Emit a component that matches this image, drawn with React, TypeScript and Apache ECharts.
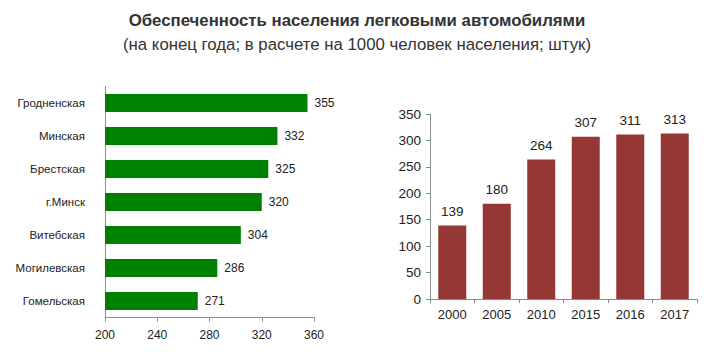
import React, { useEffect, useRef } from "react";
import * as echarts from "echarts";

const regions = ["Гродненская", "Минская", "Брестская", "г.Минск", "Витебская", "Могилевская", "Гомельская"];
const regionValues = [355, 332, 325, 320, 304, 286, 271];
const years = ["2000", "2005", "2010", "2015", "2016", "2017"];
const yearValues = [139, 180, 264, 307, 311, 313];
const titleText = "Обеспеченность населения легковыми автомобилями";
const subtitleText = "(на конец года; в расчете на 1000 человек населения; штук)";

export default function App() {
  const ref = useRef<HTMLDivElement>(null);
  useEffect(() => {
    const chart = echarts.init(ref.current!, undefined, { renderer: "svg" });
    const font = "Liberation Sans, Arial, sans-serif";
    const axisColor = "#8c8c8c";
    chart.setOption({
      animation: false,
      textStyle: { fontFamily: font },
      title: [
        {
          text: titleText,
          left: "center",
          top: 6.5,
          textStyle: { fontSize: 16.8, fontWeight: "bold", color: "#333", fontFamily: font },
        },
        {
          text: subtitleText,
          left: "center",
          top: 31,
          textStyle: { fontSize: 16.8, fontWeight: "normal", color: "#333", fontFamily: font },
        },
      ],
      grid: [
        { left: 105, top: 86.5, width: 209, height: 231 },
        { left: 430, top: 114, width: 267, height: 185 },
      ],
      xAxis: [
        {
          gridIndex: 0,
          type: "value",
          min: 200,
          max: 360,
          interval: 40,
          splitLine: { show: false },
          axisLine: { show: true, lineStyle: { color: axisColor } },
          axisTick: { show: true, length: 4, lineStyle: { color: axisColor } },
          axisLabel: { fontSize: 12, color: "#222", margin: 11 },
        },
        {
          gridIndex: 1,
          type: "category",
          data: years,
          axisLine: { show: true, lineStyle: { color: axisColor } },
          axisTick: { show: true, length: 4, alignWithLabel: false, lineStyle: { color: axisColor } },
          axisLabel: { fontSize: 13, color: "#222", margin: 9 },
        },
      ],
      yAxis: [
        {
          gridIndex: 0,
          type: "category",
          inverse: true,
          data: regions,
          axisLine: { show: true, lineStyle: { color: axisColor } },
          axisTick: { show: false },
          axisLabel: { fontSize: 11.5, color: "#222", margin: 20 },
        },
        {
          gridIndex: 1,
          type: "value",
          min: 0,
          max: 350,
          interval: 50,
          splitLine: { show: false },
          axisLine: { show: true, lineStyle: { color: axisColor } },
          axisTick: { show: true, length: 4, lineStyle: { color: axisColor } },
          axisLabel: { fontSize: 13.5, color: "#222", margin: 9 },
        },
      ],
      series: [
        {
          type: "bar",
          xAxisIndex: 0,
          yAxisIndex: 0,
          data: regionValues,
          barWidth: 18,
          itemStyle: { color: "#008000" },
          label: { show: true, position: "right", distance: 7, fontSize: 12, color: "#222" },
        },
        {
          type: "bar",
          xAxisIndex: 1,
          yAxisIndex: 1,
          data: yearValues,
          barWidth: 28,
          itemStyle: { color: "#953735" },
          label: { show: true, position: "top", distance: 7, fontSize: 13.5, color: "#222" },
        },
      ],
    });
    return () => chart.dispose();
  }, []);
  return (
    <div
      ref={ref}
      style={{ position: "fixed", left: 0, top: 0, width: 714, height: 356, background: "#fff" }}
    />
  );
}
